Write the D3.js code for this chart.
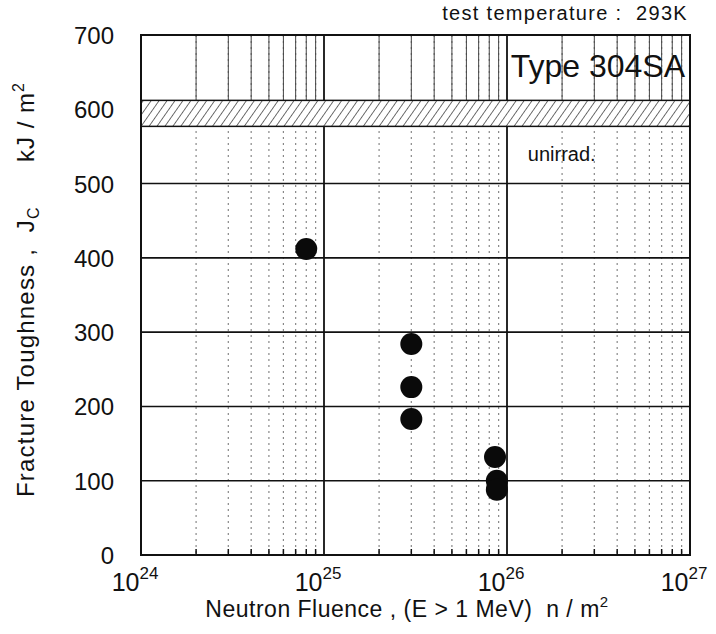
<!DOCTYPE html>
<html>
<head>
<meta charset="utf-8">
<script src="https://cdn.jsdelivr.net/npm/d3@7"></script>
<style>
  body { margin: 0; background: #fff; }
  text { font-family: "Liberation Sans", Arial, sans-serif; fill: #111; }
</style>
</head>
<body>
<div class="viz"></div>
<script>
// data
const fluence = [8.0e24, 3.0e25, 3.0e25, 3.0e25, 8.6e25, 8.8e25, 8.8e25];
const toughness = [412, 284, 226, 183, 132, 100, 88];
const unirradBand = [577, 612];
const yTicks = [0, 100, 200, 300, 400, 500, 600, 700];
const xTickExps = [24, 25, 26, 27];

const margin = { top: 35, bottom: 79, left: 141, right: 26 };
const W = 716, H = 634;
const width = W - margin.left - margin.right;
const height = H - margin.top - margin.bottom;

const svg = d3.select('.viz')
    .append('svg')
    .attr('width', W)
    .attr('height', H);

const defs = svg.append('defs');
const pat = defs.append('pattern')
    .attr('id', 'hatch')
    .attr('patternUnits', 'userSpaceOnUse')
    .attr('width', 6.5)
    .attr('height', 6.5)
    .attr('patternTransform', 'rotate(35)');
pat.append('rect').attr('width', 6.5).attr('height', 6.5).attr('fill', '#fff');
pat.append('line')
    .attr('x1', 0).attr('y1', 0).attr('x2', 0).attr('y2', 6.5)
    .attr('stroke', '#222').attr('stroke-width', 1.3);

const g = svg.append('g')
    .attr('transform', `translate(${margin.left},${margin.top})`);

const x = d3.scaleLog()
    .domain([1e24, 1e27])
    .range([0, width]);

const y = d3.scaleLinear()
    .domain([0, 700])
    .range([height, 0]);

// minor decades
const minor = [];
for (let e = 24; e < 27; e++) {
    for (let m = 2; m <= 9; m++) minor.push(m * Math.pow(10, e));
}

// faint dotted minor grid over the whole plot
g.append('g')
    .selectAll('line')
    .data(minor)
    .enter()
    .append('line')
    .attr('x1', d => x(d)).attr('x2', d => x(d))
    .attr('y1', 0).attr('y2', height)
    .attr('stroke', '#888')
    .attr('stroke-width', 1.2)
    .attr('stroke-dasharray', '2,4');

// solid minor lines in the top strip
g.append('g')
    .selectAll('line')
    .data(minor)
    .enter()
    .append('line')
    .attr('x1', d => x(d)).attr('x2', d => x(d))
    .attr('y1', 0).attr('y2', y(unirradBand[1]))
    .attr('stroke', '#444')
    .attr('stroke-width', 1);

// minor ticks at the bottom
g.append('g')
    .selectAll('line')
    .data(minor)
    .enter()
    .append('line')
    .attr('x1', d => x(d)).attr('x2', d => x(d))
    .attr('y1', height).attr('y2', height - 6)
    .attr('stroke', '#111')
    .attr('stroke-width', 1.5);

// major grid
g.append('g')
    .selectAll('line')
    .data(yTicks.slice(1, -1))
    .enter()
    .append('line')
    .attr('x1', 0).attr('x2', width)
    .attr('y1', d => y(d)).attr('y2', d => y(d))
    .attr('stroke', '#111')
    .attr('stroke-width', 1.6);

g.append('g')
    .selectAll('line')
    .data(xTickExps.slice(1, -1))
    .enter()
    .append('line')
    .attr('x1', d => x(Math.pow(10, d))).attr('x2', d => x(Math.pow(10, d)))
    .attr('y1', 0).attr('y2', height)
    .attr('stroke', '#111')
    .attr('stroke-width', 1.8);

// unirradiated band
g.append('rect')
    .attr('x', 0)
    .attr('width', width)
    .attr('y', y(unirradBand[1]))
    .attr('height', y(unirradBand[0]) - y(unirradBand[1]))
    .attr('fill', 'url(#hatch)')
    .attr('stroke', '#111')
    .attr('stroke-width', 1.5);

g.append('text')
    .attr('x', x(1.3e26))
    .attr('y', y(530))
    .attr('font-size', 20)
    .text('unirrad.');

g.append('text')
    .attr('x', width - 5)
    .attr('y', y(643))
    .attr('text-anchor', 'end')
    .attr('font-size', 32)
    .text('Type 304SA');

// frame
g.append('rect')
    .attr('width', width)
    .attr('height', height)
    .attr('fill', 'none')
    .attr('stroke', '#111')
    .attr('stroke-width', 2);

// points
g.append('g')
    .selectAll('circle')
    .data(fluence)
    .enter()
    .append('circle')
    .attr('cx', d => x(d))
    .attr('cy', (d, i) => y(toughness[i]))
    .attr('r', 11)
    .attr('fill', '#0a0a0a');

// y tick labels
g.append('g')
    .selectAll('text')
    .data(yTicks)
    .enter()
    .append('text')
    .attr('x', -27)
    .attr('y', d => y(d) + 9)
    .attr('text-anchor', 'end')
    .attr('font-size', 24)
    .text(d => d);

// x tick labels
const xl = g.append('g')
    .selectAll('text')
    .data(xTickExps)
    .enter()
    .append('text')
    .attr('x', d => x(Math.pow(10, d)) - 6)
    .attr('y', height + 36)
    .attr('text-anchor', 'middle')
    .attr('font-size', 25);
xl.append('tspan').text('10');
xl.append('tspan').attr('dy', -12).attr('font-size', 17).text(d => d);

// axis titles
svg.append('text')
    .attr('x', 407)
    .attr('y', 617)
    .attr('text-anchor', 'middle')
    .attr('font-size', 23)
    .attr('letter-spacing', 0.5)
    .attr('xml:space', 'preserve')
    .text('Neutron Fluence , (E > 1 MeV)  n / m')
    .append('tspan').attr('dy', -10).attr('font-size', 15).text('2');

const yt = svg.append('text')
    .attr('transform', 'translate(34,497) rotate(-90)')
    .attr('font-size', 24)
    .attr('letter-spacing', 1.2)
    .attr('xml:space', 'preserve');
yt.append('tspan').text('Fracture Toughness ,  J');
yt.append('tspan').attr('dy', 5).attr('font-size', 16).text('C');

const yu = svg.append('text')
    .attr('transform', 'translate(34,162) rotate(-90)')
    .attr('font-size', 24)
    .attr('letter-spacing', 1)
    .attr('xml:space', 'preserve');
yu.append('tspan').text('kJ / m');
yu.append('tspan').attr('dy', -10).attr('font-size', 16).text('2');

svg.append('text')
    .attr('x', 688)
    .attr('y', 20)
    .attr('text-anchor', 'end')
    .attr('font-size', 20)
    .attr('letter-spacing', 1.3)
    .attr('xml:space', 'preserve')
    .text('test temperature :  293K');
</script>
</body>
</html>
